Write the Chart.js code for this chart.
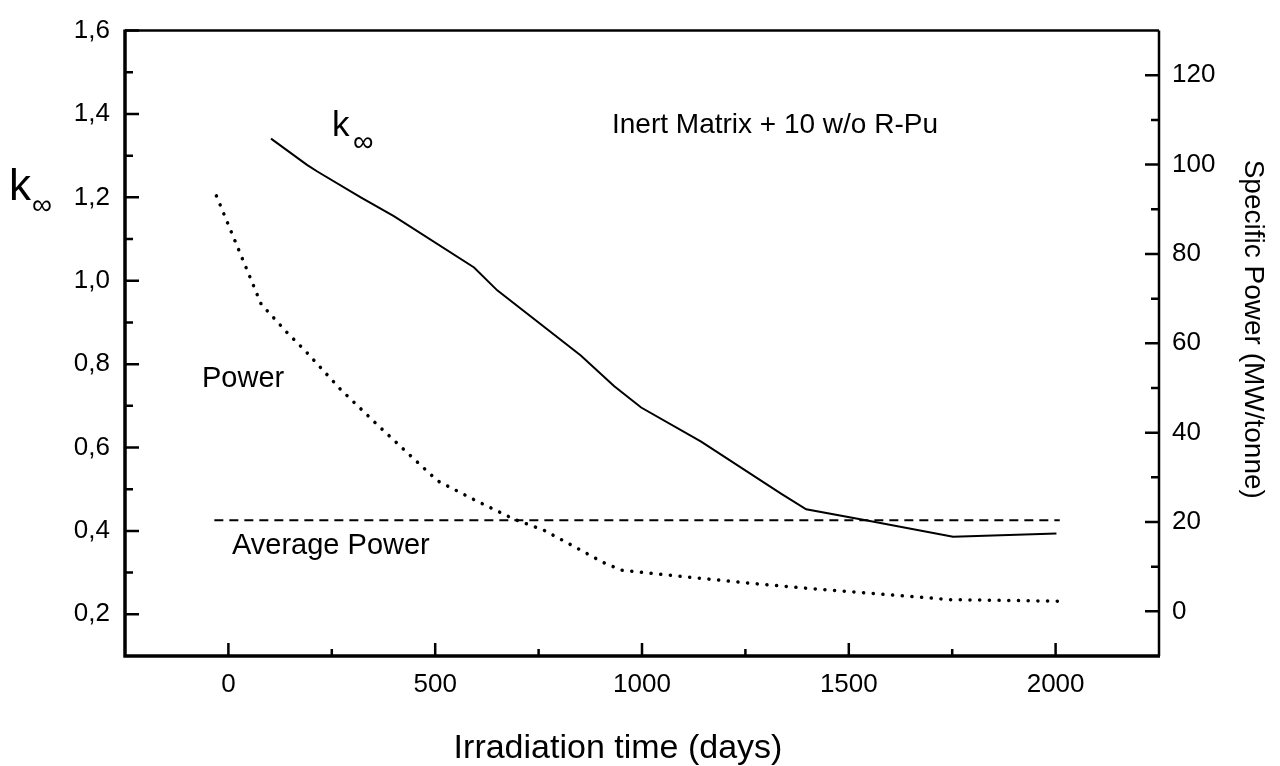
<!DOCTYPE html>
<html>
<head>
<meta charset="utf-8">
<script src="https://cdn.jsdelivr.net/npm/chart.js@4.4.1/dist/chart.umd.min.js"></script>
<style>
    html, body { margin: 0; padding: 0; background: #fff; }
    #wrap { width: 1280px; height: 766px; position: relative; }
</style>
</head>
<body>
<div id="wrap"><canvas id="kinfChart"></canvas></div>
<script>
// k-infinity curve (left axis)
const kDays = [103, 190, 215, 320, 400, 594, 650, 852, 933, 998, 1143, 1337, 1397, 1554, 1752, 2002];
const kValues = [1.341, 1.278, 1.262, 1.20, 1.155, 1.032, 0.977, 0.821, 0.747, 0.696, 0.614, 0.489, 0.452, 0.423, 0.386, 0.394];

// Specific power curve (right axis, MW/tonne)
const powerDays = [-29, 79, 142, 186, 271, 362, 457, 506, 598, 691, 762, 836, 905, 951, 1022, 1141, 1260, 1381, 1748, 2027];
const powerValues = [93.0, 68.8, 62.4, 58.3, 49.7, 41.6, 33.4, 29.2, 24.8, 20.6, 18.2, 14.5, 11.0, 9.2, 8.5, 7.4, 6.3, 5.3, 2.6, 2.25];

// Average power (right axis)
const avgDays = [-34, 2010];
const avgValues = [20.4, 20.4];

// Axis ticks
const xTicks = [0, 500, 1000, 1500, 2000];
const xMinorTicks = [250, 750, 1250, 1750];
const leftTicks = [0.2, 0.4, 0.6, 0.8, 1.0, 1.2, 1.4, 1.6];
const leftMinorTicks = [0.3, 0.5, 0.7, 0.9, 1.1, 1.3, 1.5];
const rightTicks = [0, 20, 40, 60, 80, 100, 120];
const rightMinorTicks = [10, 30, 50, 70, 90, 110];

const FONT = '"Liberation Sans", Arial, Helvetica, sans-serif';

const toPoints = (xs, ys) => xs.map((x, i) => ({ x: x, y: ys[i] }));

// Frame, inward ticks, titles and in-plot labels
const decorPlugin = {
    id: 'decor',
    afterDraw(chart) {
        const ctx = chart.ctx;
        const a = chart.chartArea;
        const sx = chart.scales.x;
        const sl = chart.scales.yLeft;
        const sr = chart.scales.yRight;
        ctx.save();
        ctx.strokeStyle = '#000';
        ctx.lineCap = 'butt';

        // frame
        ctx.lineWidth = 2.5;
        ctx.beginPath();
        ctx.moveTo(a.left, a.top); ctx.lineTo(a.right, a.top);
        ctx.moveTo(a.right, a.top); ctx.lineTo(a.right, a.bottom);
        ctx.stroke();
        ctx.lineWidth = 3.5;
        ctx.beginPath();
        ctx.moveTo(a.left, a.top - 1); ctx.lineTo(a.left, a.bottom + 1.5);
        ctx.moveTo(a.left - 1.5, a.bottom); ctx.lineTo(a.right + 1, a.bottom);
        ctx.stroke();

        // inward ticks
        ctx.lineWidth = 2.5;
        ctx.beginPath();
        xTicks.forEach(v => { const p = sx.getPixelForValue(v); ctx.moveTo(p, a.bottom); ctx.lineTo(p, a.bottom - 13); });
        xMinorTicks.forEach(v => { const p = sx.getPixelForValue(v); ctx.moveTo(p, a.bottom); ctx.lineTo(p, a.bottom - 7); });
        leftTicks.forEach(v => { const p = sl.getPixelForValue(v); ctx.moveTo(a.left, p); ctx.lineTo(a.left + 14, p); });
        leftMinorTicks.forEach(v => { const p = sl.getPixelForValue(v); ctx.moveTo(a.left, p); ctx.lineTo(a.left + 8, p); });
        rightTicks.forEach(v => { const p = sr.getPixelForValue(v); ctx.moveTo(a.right, p); ctx.lineTo(a.right - 14, p); });
        rightMinorTicks.forEach(v => { const p = sr.getPixelForValue(v); ctx.moveTo(a.right, p); ctx.lineTo(a.right - 8, p); });
        ctx.stroke();

        ctx.fillStyle = '#000';
        ctx.textBaseline = 'alphabetic';

        // x-axis title
        ctx.font = '34px ' + FONT;
        ctx.textAlign = 'center';
        ctx.fillText('Irradiation time (days)', 618, 758);

        // right-axis title, reading top to bottom
        ctx.save();
        ctx.translate(1245, (a.top + a.bottom) / 2 - 14);
        ctx.rotate(Math.PI / 2);
        ctx.font = '28px ' + FONT;
        ctx.textAlign = 'center';
        ctx.fillText('Specific Power (MW/tonne)', 0, 0);
        ctx.restore();

        // left-axis title k∞
        ctx.textAlign = 'left';
        ctx.font = '44px ' + FONT;
        ctx.fillText('k', 9, 200);
        ctx.font = '28px ' + FONT;
        ctx.fillText('\u221E', 32, 214);

        // in-plot labels
        ctx.font = '35px ' + FONT;
        ctx.fillText('k', 332, 136);
        ctx.font = '29px ' + FONT;
        ctx.fillText('\u221E', 353, 151);

        ctx.font = '28px ' + FONT;
        ctx.fillText('Inert Matrix + 10 w/o R-Pu', 612, 133);
        ctx.font = '29px ' + FONT;
        ctx.fillText('Power', 202, 387);
        ctx.fillText('Average Power', 232, 554);

        ctx.restore();
    }
};

const ctx = document.getElementById('kinfChart').getContext('2d');
const kinfChart = new Chart(ctx, {
    type: 'scatter',
    data: {
        datasets: [
            {
                label: 'k-inf',
                data: toPoints(kDays, kValues),
                yAxisID: 'yLeft',
                showLine: true,
                borderColor: '#000',
                borderWidth: 2,
                pointRadius: 0,
                tension: 0
            },
            {
                label: 'Power',
                data: toPoints(powerDays, powerValues),
                yAxisID: 'yRight',
                showLine: true,
                borderColor: '#000',
                borderWidth: 3.5,
                borderDash: [0.1, 9.6],
                borderCapStyle: 'round',
                pointRadius: 0,
                tension: 0
            },
            {
                label: 'Average Power',
                data: toPoints(avgDays, avgValues),
                yAxisID: 'yRight',
                showLine: true,
                borderColor: '#000',
                borderWidth: 2,
                borderDash: [9, 6],
                pointRadius: 0
            }
        ]
    },
    options: {
        responsive: true,
        maintainAspectRatio: false,
        animation: false,
        layout: { padding: { top: 16, left: 0, right: 0, bottom: 0 } },
        plugins: {
            legend: { display: false },
            tooltip: { enabled: false }
        },
        scales: {
            x: {
                type: 'linear',
                position: 'bottom',
                min: -250,
                max: 2250,
                afterBuildTicks: s => { s.ticks = xTicks.map(v => ({ value: v })); },
                afterFit: s => { s.height = 110; },
                grid: { display: false, drawTicks: false },
                border: { display: false },
                ticks: {
                    color: '#000',
                    font: { family: FONT, size: 26 },
                    padding: 13,
                    maxRotation: 0,
                    callback: v => String(v)
                }
            },
            yLeft: {
                type: 'linear',
                position: 'left',
                min: 0.1,
                max: 1.6,
                afterBuildTicks: s => { s.ticks = leftTicks.map(v => ({ value: v })); },
                afterFit: s => { s.width = 125; },
                grid: { display: false, drawTicks: false },
                border: { display: false },
                ticks: {
                    color: '#000',
                    font: { family: FONT, size: 26 },
                    padding: 15,
                    callback: v => v.toFixed(1).replace('.', ',')
                }
            },
            yRight: {
                type: 'linear',
                position: 'right',
                min: -10,
                max: 130,
                afterBuildTicks: s => { s.ticks = rightTicks.map(v => ({ value: v })); },
                afterFit: s => { s.width = 121; },
                grid: { display: false, drawTicks: false },
                border: { display: false },
                ticks: { color: '#000', font: { family: FONT, size: 26 }, padding: 13 }
            }
        }
    },
    plugins: [decorPlugin]
});
</script>
</body>
</html>
